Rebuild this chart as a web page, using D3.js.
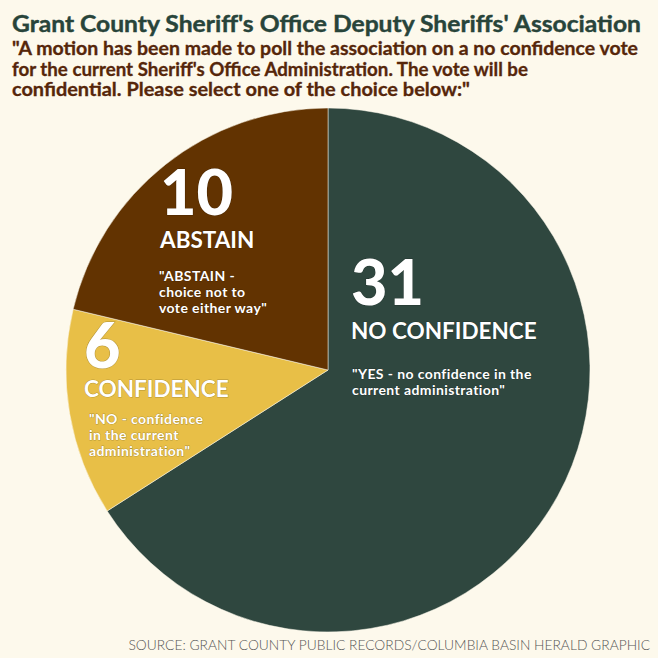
<!DOCTYPE html>
<html>
<head>
<meta charset="utf-8">
<script src="https://cdn.jsdelivr.net/npm/d3@7"></script>
<style>
  body { margin: 0; background: #fdf9ec; }
  svg { display: block; font-family: Lato, "Noto Sans", sans-serif; }
</style>
</head>
<body>
<div id="chart"></div>
<script>
// data
var categories = ["NO CONFIDENCE", "CONFIDENCE", "ABSTAIN"];
var votes = [31, 6, 10];
var notes = [
  ["\"YES - no confidence in the", "current administration\""],
  ["\"NO - confidence", "in the current", "administration\""],
  ["\"ABSTAIN -", "choice not to", "vote either way\""]
];
var colors = ["#2f473f", "#e8bf47", "#623301"];
var titleText = "Grant County Sheriff's Office Deputy Sheriffs' Association";
var subtitleLines = [
  "\"A motion has been made to poll the association on a no confidence vote",
  "for the current Sheriff's Office Administration. The vote will be",
  "confidential. Please select one of the choice below:\""
];
var sourceText = "SOURCE: GRANT COUNTY PUBLIC RECORDS/COLUMBIA BASIN HERALD GRAPHIC";

var W = 658, H = 658;
var cx = 328, cy = 370, r = 262;

var svg = d3.select("#chart").append("svg")
  .attr("width", W).attr("height", H);

svg.append("rect").attr("width", W).attr("height", H).attr("fill", "#fdf9ec");

// title + subtitle
svg.append("text")
  .attr("x", 12).attr("y", 32)
  .attr("font-size", "22px").attr("font-weight", "bold")
  .attr("fill", "#28443a")
  .attr("stroke", "#28443a").attr("stroke-width", 0.4)
  .attr("textLength", 629).attr("lengthAdjust", "spacingAndGlyphs")
  .text(titleText);

var subW = [626, 516, 458];
svg.selectAll(".sub").data(subtitleLines).enter().append("text")
  .attr("class", "sub")
  .attr("x", 12).attr("y", function(d, i){ return 55 + i * 20.5; })
  .attr("font-size", "18px").attr("font-weight", "bold")
  .attr("fill", "#56260a")
  .attr("stroke", "#56260a").attr("stroke-width", 0.3)
  .attr("textLength", function(d, i){ return subW[i]; })
  .attr("lengthAdjust", "spacingAndGlyphs")
  .text(function(d){ return d; });

// pie
var pie = d3.pie().sort(null).value(function(d){ return d; });
var arc = d3.arc().innerRadius(0).outerRadius(r);
var g = svg.append("g").attr("transform", "translate(" + cx + "," + cy + ")");

g.selectAll("path").data(pie(votes)).enter().append("path")
  .attr("d", arc)
  .attr("fill", function(d, i){ return colors[i]; })
  .attr("stroke", "#fdf9ec").attr("stroke-width", 0.5);

// label anchors per slice
var labelPos = [
  { x: 351, num: 305, cat: 339, note: 379, nx: 352 },
  { x: 84, num: 368, cat: 397, note: 424, nx: 89 },
  { x: 160, num: 215, cat: 248, note: 281, nx: 159 }
];

var lab = svg.selectAll(".lab").data(votes).enter().append("g").attr("class", "lab")
  .attr("fill", "#ffffff")
  .attr("stroke", "rgba(0,0,0,0.25)").attr("stroke-width", 1)
  .style("paint-order", "stroke");

lab.append("text")
  .attr("x", function(d, i){ return labelPos[i].x; })
  .attr("y", function(d, i){ return labelPos[i].num; })
  .attr("font-size", "63px").attr("font-weight", "900")
  .text(function(d){ return d; });

lab.append("text")
  .attr("x", function(d, i){ return labelPos[i].x; })
  .attr("y", function(d, i){ return labelPos[i].cat; })
  .attr("font-size", "22.5px").attr("font-weight", "bold")
  .text(function(d, i){ return categories[i]; });

lab.each(function(d, i){
  d3.select(this).selectAll(".note").data(notes[i]).enter().append("text")
    .attr("x", labelPos[i].nx)
    .attr("y", function(t, j){ return labelPos[i].note + j * 16; })
    .attr("font-size", "14px").attr("font-weight", "bold")
    .attr("letter-spacing", "0.4px")
    .text(function(t){ return t; });
});

// source
svg.append("text")
  .attr("x", 650).attr("y", 650)
  .attr("text-anchor", "end")
  .attr("font-size", "13.8px").attr("font-weight", "300")
  .attr("fill", "#555555")
  .text(sourceText);
</script>
</body>
</html>
